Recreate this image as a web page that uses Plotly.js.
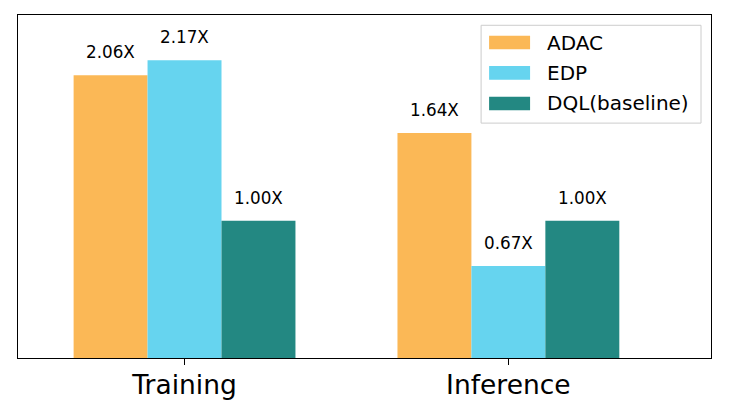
<!DOCTYPE html>
<html>
<head>
<meta charset="utf-8">
<script src="https://cdn.plot.ly/plotly-3.0.1.min.js"></script>
<style>html,body{margin:0;padding:0;background:#fff;}#chart{width:730px;height:404px;}</style>
</head>
<body>
<div id="chart"></div>
<script>
// ---- data ----
const categories = ["Training", "Inference"];
const seriesNames = ["ADAC", "EDP", "DQL(baseline)"];
const adacValues = [2.06, 1.64];
const edpValues = [2.17, 0.67];
const dqlValues = [1.00, 1.00];
const valueLabels = [["2.06X", "1.64X"], ["2.17X", "0.67X"], ["1.00X", "1.00X"]];

const seriesValues = [adacValues, edpValues, dqlValues];
const colors = ["#FBB856", "#66D4EF", "#238882"];
const FONT = "DejaVu Sans, Liberation Sans, sans-serif";

// plot area in pixels
const W = 730, H = 404;
const L = 17.7, R = 711, T = 14.7, B = 358.3;
const pw = R - L, ph = B - T;
const px2x = p => (p - L) / pw;
const py2y = p => (B - p) / ph;

const bargap = 0.315;
const barW = (1 - bargap) / seriesNames.length;

const traces = seriesNames.map((name, s) => ({
  type: "bar",
  name: name,
  x: categories,
  y: seriesValues[s],
  marker: {color: colors[s], line: {width: 0}},
  showlegend: false,
  hoverinfo: "skip"
}));

const annotations = [];
seriesNames.forEach((name, s) => {
  categories.forEach((c, i) => {
    annotations.push({
      x: i + (s - 1) * barW, y: seriesValues[s][i], xref: "x", yref: "y",
      text: valueLabels[s][i], showarrow: false, yshift: 23,
      xanchor: "center", yanchor: "middle",
      font: {family: FONT, size: 16.8, color: "#000"}
    });
  });
});

// custom legend (matplotlib style)
const shapes = [{
  type: "rect", xref: "paper", yref: "paper",
  x0: px2x(481), x1: px2x(701), y0: py2y(123), y1: py2y(25),
  line: {color: "#cccccc", width: 1}, fillcolor: "rgba(255,255,255,0.8)", layer: "above"
}];
const rowY = [42.3, 72.7, 103.3];
seriesNames.forEach((name, s) => {
  shapes.push({
    type: "rect", xref: "paper", yref: "paper",
    x0: px2x(489), x1: px2x(530), y0: py2y(rowY[s] + 6.8), y1: py2y(rowY[s] - 6.8),
    line: {width: 0}, fillcolor: colors[s], layer: "above"
  });
  annotations.push({
    x: px2x(545), y: py2y(rowY[s]), xref: "paper", yref: "paper",
    text: name, showarrow: false, xanchor: "left", yanchor: "middle",
    font: {family: FONT, size: 20, color: "#000"}
  });
});

const layout = {
  width: W, height: H,
  margin: {l: L, r: W - R, t: T, b: H - B, pad: 0},
  paper_bgcolor: "#fff", plot_bgcolor: "#fff",
  barmode: "group", bargap: bargap, bargroupgap: 0,
  xaxis: {
    type: "category", range: [(L - 184.3) / 324, (R - 184.3) / 324],
    showline: true, mirror: true, linecolor: "#000", linewidth: 1.2,
    ticks: "outside", ticklen: 6, tickwidth: 1.2, tickcolor: "#000",
    ticklabelstandoff: -3,
    showgrid: false, zeroline: false,
    tickfont: {family: FONT, size: 26.5, color: "#000"}
  },
  yaxis: {
    range: [0, 2.5], showline: true, mirror: true, linecolor: "#000", linewidth: 1.2,
    showticklabels: false, ticks: "", showgrid: false, zeroline: false
  },
  shapes: shapes,
  annotations: annotations,
  showlegend: false
};

Plotly.newPlot("chart", traces, layout, {staticPlot: true, displayModeBar: false});
</script>
</body>
</html>
